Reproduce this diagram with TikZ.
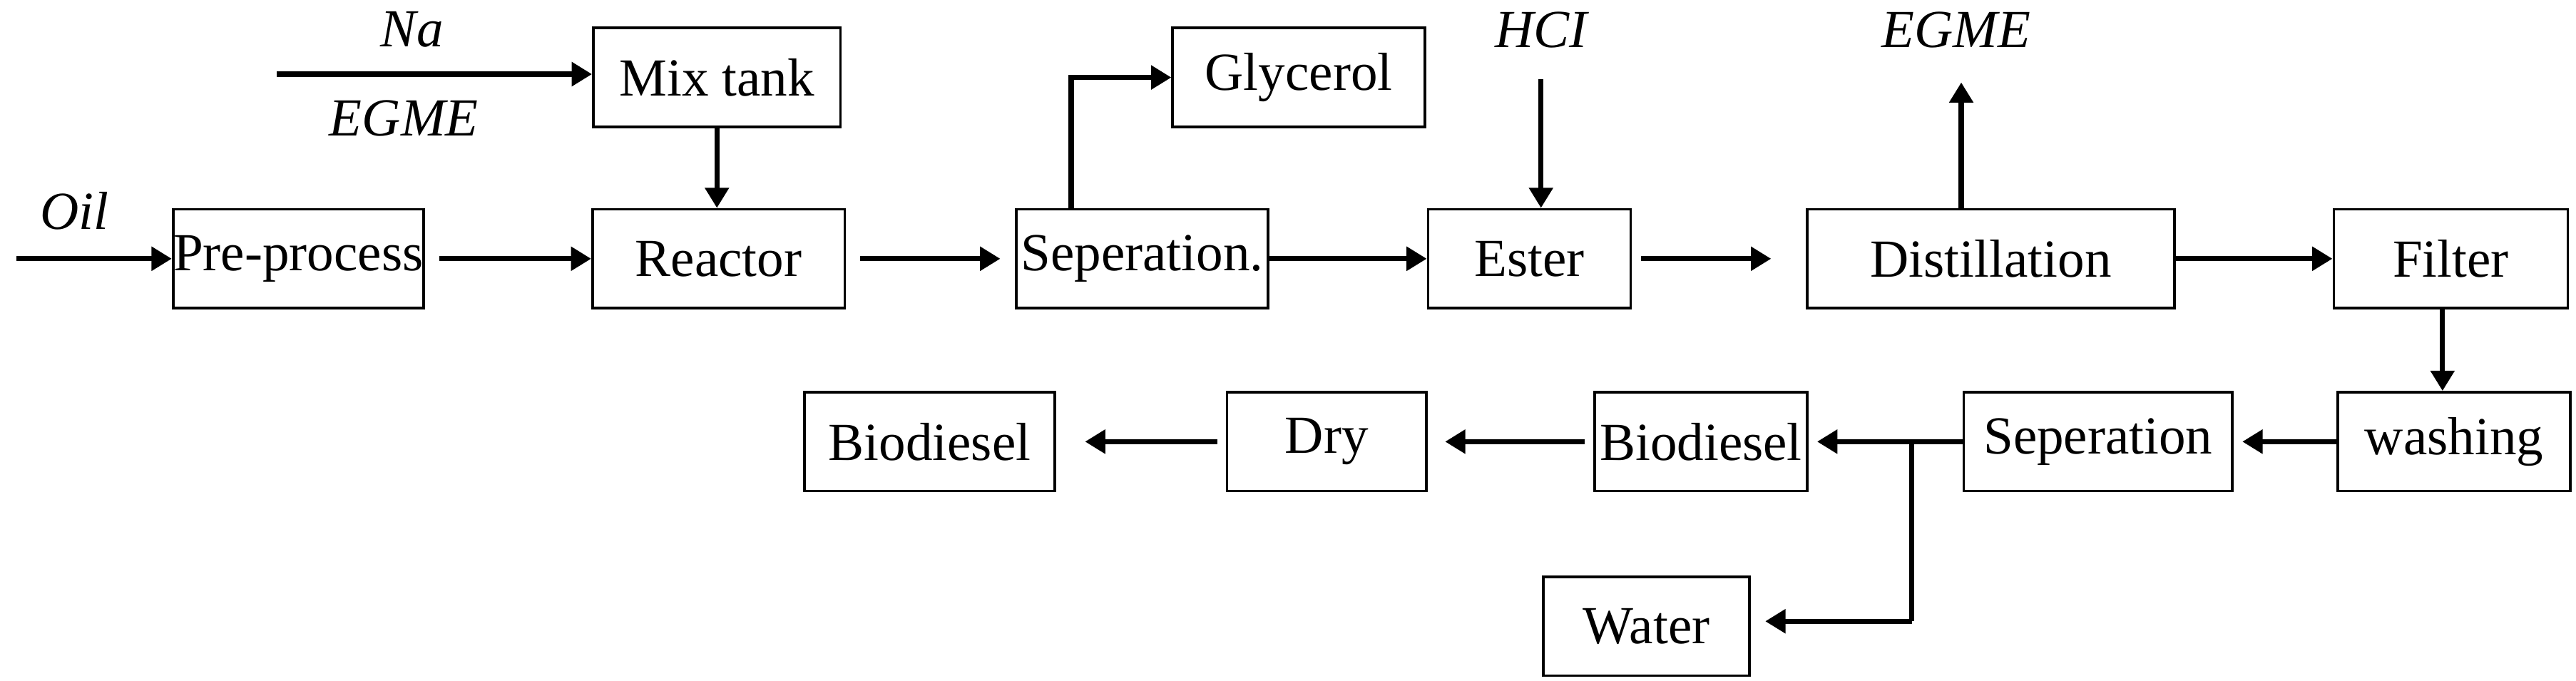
\documentclass[tikz,border=0pt]{standalone}
\usepackage{fontspec}
\setmainfont{Liberation Serif}
\usetikzlibrary{arrows.meta}
\begin{document}
\begin{tikzpicture}[x=0.02cm,y=-0.02cm,
boxnode/.style={rectangle, draw=black, line width=0.9pt, minimum height=1.2cm, inner sep=0pt, font=\fontsize{18.5}{20}\selectfont},
labnode/.style={font=\fontsize{18.5}{20}\selectfont\itshape, inner sep=0pt},
flow/.style={line width=1.8pt, -{Triangle[length=7pt,width=8pt]}},
]
\useasboundingbox (0,0) rectangle (1563,413);
%Nodes
\node[boxnode, minimum width=3cm]    (mix)     at (435,47)  {Mix tank};
\node[boxnode, minimum width=3.06cm] (gly)     at (788,47)  {Glycerol};
\node[boxnode, minimum width=3.04cm] (pre)     at (181,157) {Pre-process};
\node[boxnode, minimum width=3.06cm] (reactor) at (436,157) {Reactor};
\node[boxnode, minimum width=3.06cm] (sep1)    at (693,157) {Seperation.};
\node[boxnode, minimum width=2.46cm] (ester)   at (928,157) {Ester};
\node[boxnode, minimum width=4.46cm] (dist)    at (1208,157) {Distillation};
\node[boxnode, minimum width=2.84cm] (filter)  at (1487,157) {Filter};
\node[boxnode, minimum width=2.82cm] (wash)    at (1489,268) {washing};
\node[boxnode, minimum width=3.26cm] (sep2)    at (1273,268) {Seperation};
\node[boxnode, minimum width=2.58cm] (bio1)    at (1032,268) {Biodiesel};
\node[boxnode, minimum width=2.42cm] (dry)     at (805,268) {Dry};
\node[boxnode, minimum width=3.04cm] (bio2)    at (564,268) {Biodiesel};
\node[boxnode, minimum width=2.5cm]  (water)   at (999,380) {Water};
\node[labnode] (na)   at (250,18)  {Na};
\node[labnode] (egme) at (245,72)  {EGME};
\node[labnode] (oil)  at (45,128)  {Oil};
\node[labnode] (hcl)  at (935,18)  {HCI};
\node[labnode] (egme2) at (1187,18) {EGME};
\coordinate (nain)  at (168,45);
\coordinate (oilin) at (10,157);
\coordinate (hclin) at (935,48);
\coordinate (egout) at (1190,50);
\coordinate (split) at (1160,268);

%Lines
\draw[flow] (nain) -- (mix.west |- nain);
\draw[flow] (oilin) -- (pre.west);
\draw[flow] (mix.south) -- (mix.south |- reactor.north);
\draw[flow] ([xshift=5pt]pre.east) -- (reactor.west);
\draw[flow] ([xshift=5pt]reactor.east) -- ([xshift=-5pt]sep1.west);
\draw[flow] (sep1.north -| 650,0) |- (gly.west);
\draw[flow] (sep1.east) -- (ester.west);
\draw[flow] (hclin) -- (hclin |- ester.north);
\draw[flow] ([xshift=3pt]ester.east) -- ([xshift=-12pt]dist.west);
\draw[flow] (dist.north -| egout) -- (egout);
\draw[flow] (dist.east) -- (filter.west);
\draw[flow] (filter.south -| 1482,0) -- (wash.north -| 1482,0);
\draw[flow] (wash.west) -- ([xshift=3pt]sep2.east);
\draw[flow] (sep2.west) -- ([xshift=3pt]bio1.east);
\draw[line width=1.8pt] (split) -- (1160,377);
\draw[flow] (1160,377) -- ([xshift=5pt]water.east |- 0,377);
\draw[flow] ([xshift=-3pt]bio1.west) -- ([xshift=6pt]dry.east);
\draw[flow] ([xshift=-3pt]dry.west) -- ([xshift=10pt]bio2.east);
\end{tikzpicture}
\end{document}
